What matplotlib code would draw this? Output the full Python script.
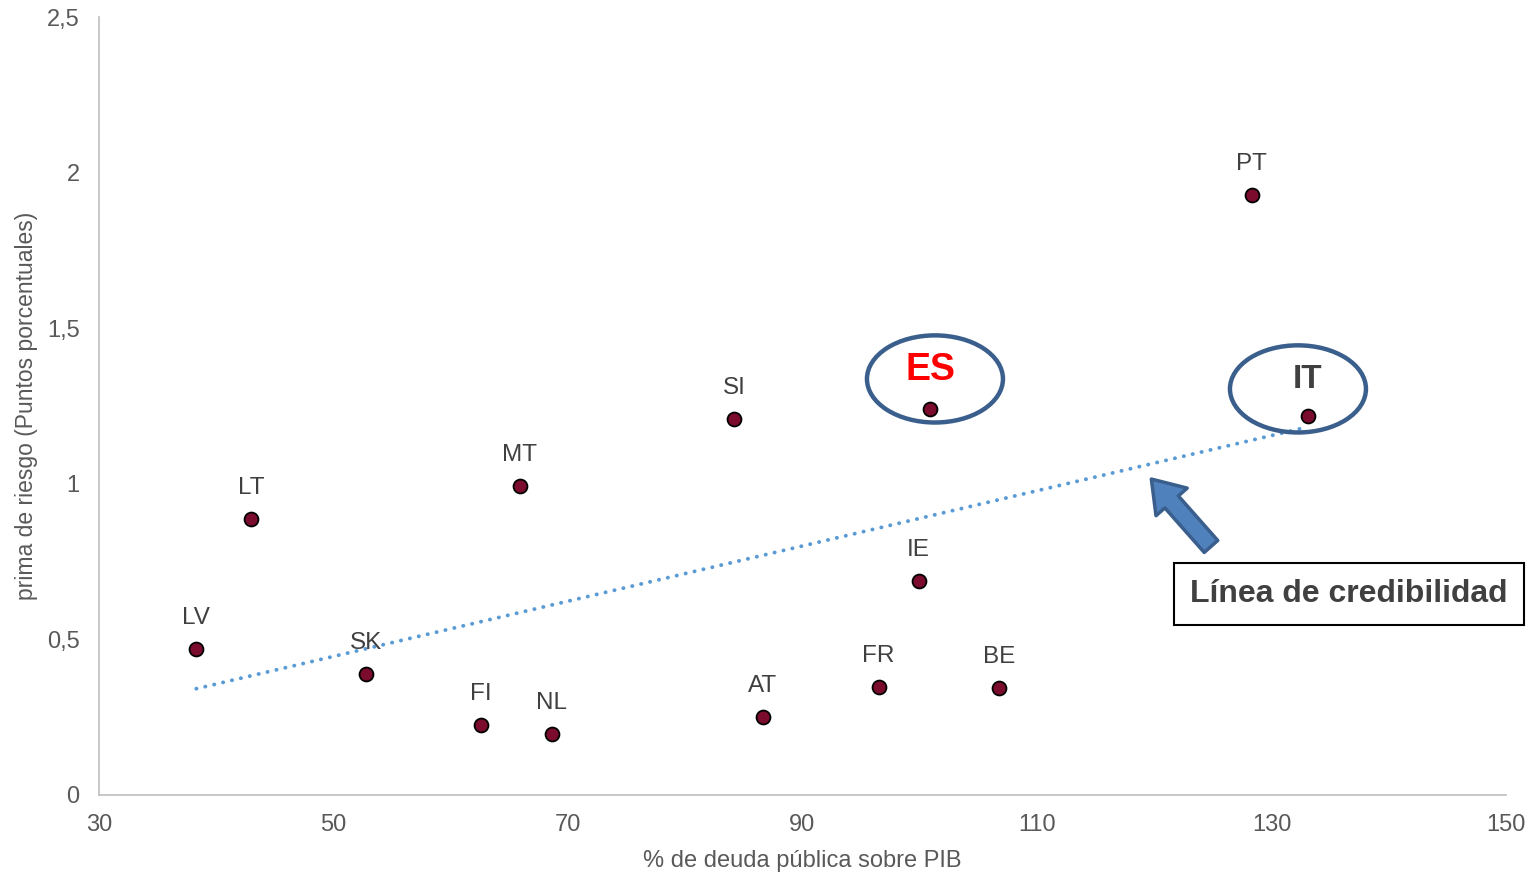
import numpy as np
import matplotlib
matplotlib.use('Agg')
import matplotlib.pyplot as plt
from matplotlib.patches import Ellipse, FancyArrowPatch

plt.rcParams['font.family'] = ['Liberation Sans', 'DejaVu Sans']

countries = ['LV', 'LT', 'SK', 'FI', 'NL', 'MT', 'SI', 'AT', 'FR', 'IE', 'ES', 'BE', 'PT', 'IT']
deuda = [38.3, 43.0, 52.8, 62.6, 68.6, 65.9, 84.2, 86.6, 96.5, 99.9, 100.9, 106.8, 128.3, 133.1]
prima = [0.469, 0.887, 0.389, 0.225, 0.196, 0.993, 1.208, 0.251, 0.347, 0.688, 1.240, 0.344, 1.928, 1.218]

x_ticks = [30, 50, 70, 90, 110, 130, 150]
y_ticks = [0, 0.5, 1, 1.5, 2, 2.5]
y_tick_labels = ['0', '0,5', '1', '1,5', '2', '2,5']

gray = '#595959'

fig = plt.figure(figsize=(15.37, 8.74), dpi=100)
ax = fig.add_axes([0.0644, 0.0904, 0.9154, 0.8901])

# linear trend over all countries
coef = np.polyfit(deuda, prima, 1)
xt = np.array([min(deuda), max(deuda)])
ax.plot(xt, np.polyval(coef, xt), color='#5b9bd5', lw=2.8, ls=(0, (0.05, 2.3)),
        dash_capstyle='round', zorder=2)

ax.scatter(deuda, prima, s=100, color='#7b0c2d', edgecolor='black', lw=1.3, zorder=3)

for c, x, y in zip(countries, deuda, prima):
    if c == 'ES':
        ax.annotate(c, (x, y), xytext=(0, 28), textcoords='offset points', ha='center',
                    va='center', fontsize=27, fontweight='bold', color='#ff0000')
    elif c == 'IT':
        ax.annotate(c, (x, y), xytext=(0, 26), textcoords='offset points', ha='center',
                    va='center', fontsize=24, fontweight='bold', color='#404040')
    else:
        ax.annotate(c, (x, y), xytext=(0, 22.5), textcoords='offset points', ha='center',
                    va='center', fontsize=17.5, color='#404040')

# circles around Spain and Italy
for cx, cy in [(101.3, 1.337), (132.26, 1.305)]:
    ax.add_patch(Ellipse((cx, cy), 11.6, 0.28, fill=False, edgecolor='#3a5f8d', lw=3.2, zorder=4))

arrow = FancyArrowPatch((125.0, 0.792), (119.6, 1.022),
                        arrowstyle='simple,head_width=30,head_length=22,tail_width=13',
                        mutation_scale=1, facecolor='#4f81bd', edgecolor='#3a5f8d', lw=2.5, zorder=4)
ax.add_patch(arrow)

ax.text(136.6, 0.645, 'Línea de credibilidad', ha='center', va='center', fontsize=23,
        fontweight='bold', color='#404040', zorder=5,
        bbox=dict(boxstyle='square,pad=0.5', facecolor='white', edgecolor='black', lw=1.5))

ax.set_xlim(30, 150)
ax.set_ylim(0, 2.5)
ax.set_xticks(x_ticks)
ax.set_yticks(y_ticks)
ax.set_yticklabels(y_tick_labels)
ax.tick_params(length=0, labelsize=17, colors=gray)
ax.tick_params(axis='x', pad=14)
ax.tick_params(axis='y', pad=14)
for s in ['top', 'right']:
    ax.spines[s].set_visible(False)
for s in ['left', 'bottom']:
    ax.spines[s].set_color('#bfbfbf')
    ax.spines[s].set_linewidth(1.2)

ax.set_xlabel('% de deuda pública sobre PIB', fontsize=17, color=gray, labelpad=10)
ax.set_ylabel('prima de riesgo (Puntos porcentuales)', fontsize=16.5, color=gray)
ax.yaxis.set_label_coords(-0.043, 0.5)

fig.savefig('out.png', dpi=100)
